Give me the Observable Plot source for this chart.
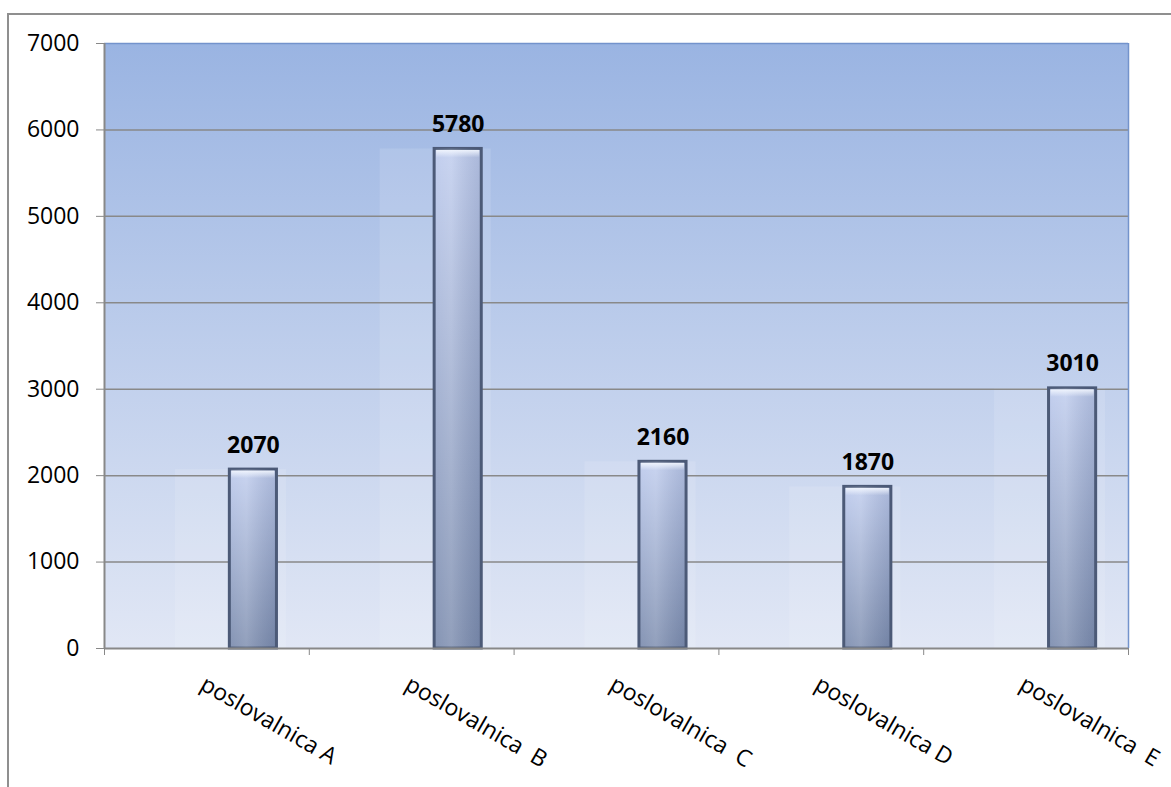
<!DOCTYPE html>
<html><head><meta charset="utf-8">
<script src="https://cdn.jsdelivr.net/npm/d3@7"></script>
<script src="https://cdn.jsdelivr.net/npm/@observablehq/plot@0.6"></script>
<style>
body{margin:0;background:#fff;}
#wrap{position:relative;width:1171px;height:787px;overflow:hidden;}
#frame{position:absolute;left:7px;top:13px;width:1200px;height:800px;border-left:2px solid #8f8f8f;border-top:2px solid #8f8f8f;pointer-events:none;}
#wrap svg{position:absolute;left:0;top:0;}
svg text{white-space:pre;}
</style></head><body><div id="wrap"><div id="frame"></div></div>
<script>
const categories = ["poslovalnica A", "poslovalnica  B", "poslovalnica  C", "poslovalnica D", "poslovalnica  E"];
const values = [2070, 5780, 2160, 1870, 3010];
const yTicks = [0, 1000, 2000, 3000, 4000, 5000, 6000, 7000];
const gridTicks = [1000, 2000, 3000, 4000, 5000, 6000];

const data = categories.map((c, i) => ({c, v: values[i]}));

const defs = () => {
  const s = d3.create("svg:defs");
  const bg = s.append("linearGradient").attr("id", "bg").attr("x1", 0).attr("y1", 0).attr("x2", 0).attr("y2", 1);
  bg.append("stop").attr("offset", "0%").attr("stop-color", "#9ab4e2");
  bg.append("stop").attr("offset", "100%").attr("stop-color", "#e1e7f5");
  const bv = s.append("linearGradient").attr("id", "barV").attr("x1", 0).attr("y1", 0).attr("x2", 0).attr("y2", 1);
  bv.append("stop").attr("offset", "0%").attr("stop-color", "#c0cdee");
  bv.append("stop").attr("offset", "100%").attr("stop-color", "#7f8fb0");
  const bh = s.append("linearGradient").attr("id", "barH").attr("x1", 0).attr("y1", 0).attr("x2", 1).attr("y2", 0);
  bh.append("stop").attr("offset", "0%").attr("stop-color", "#ffffff").attr("stop-opacity", 0.05);
  bh.append("stop").attr("offset", "35%").attr("stop-color", "#ffffff").attr("stop-opacity", 0.15);
  bh.append("stop").attr("offset", "100%").attr("stop-color", "#1a2a50").attr("stop-opacity", 0.12);
  const hl = s.append("linearGradient").attr("id", "hl").attr("x1", 0).attr("y1", 0).attr("x2", 0).attr("y2", 1);
  hl.append("stop").attr("offset", "0%").attr("stop-color", "#f4f8ff").attr("stop-opacity", 0.9);
  hl.append("stop").attr("offset", "100%").attr("stop-color", "#f4f8ff").attr("stop-opacity", 0);
  return s.node();
};

const STEP = 204.8;
const BAR_DX = 46.5;

const chart = Plot.plot({
  width: 1171,
  height: 787,
  marginLeft: 104,
  marginRight: 43,
  marginTop: 43,
  marginBottom: 139,
  style: {fontFamily: "'Open Sans', sans-serif", fontSize: "23px", background: "transparent", color: "#000"},
  x: {domain: categories, paddingInner: 0.77, paddingOuter: 0.385, round: false},
  y: {domain: [0, 7000]},
  marks: [
    defs,
    Plot.frame({fill: "url(#bg)"}),
    Plot.barY(data, {x: "c", y: "v", dx: 24, insetLeft: -32, insetRight: -32, fill: "white", fillOpacity: 0.12}),
    Plot.ruleY(gridTicks, {stroke: "#898989", strokeWidth: 1.5}),
    Plot.ruleY([7000], {stroke: "#7393cc", strokeWidth: 1.5}),
    Plot.ruleX([categories[4]], {dx: STEP / 2, stroke: "#7393cc", strokeWidth: 1.5}),
    Plot.barY(data, {x: "c", y: "v", dx: BAR_DX, fill: "url(#barV)", stroke: "#4c5a77", strokeWidth: 3}),
    Plot.barY(data, {x: "c", y: "v", dx: BAR_DX, insetLeft: 1.5, insetRight: 1.5, fill: "url(#barH)"}),
    Plot.barY(data, {x: "c", y1: "v", y2: "v", dx: BAR_DX, insetTop: 1.5, insetBottom: -9, insetLeft: 2, insetRight: 2, fill: "url(#hl)"}),
    Plot.ruleY([0], {stroke: "#888", strokeWidth: 2}),
    Plot.ruleX([categories[0]], {dx: -STEP / 2, stroke: "#888", strokeWidth: 2}),
    Plot.axisY({ticks: yTicks, tickSize: 8, tickPadding: 17, stroke: "#888", fill: "#000", fontSize: 23, label: null, tickFormat: d => String(d)}),
    Plot.axisX({ticks: categories, tickSize: 7, tickFormat: () => "", dx: STEP / 2, stroke: "#888", label: null}),
    Plot.axisX({ticks: [categories[0]], tickSize: 7, tickFormat: () => "", dx: -STEP / 2, stroke: "#888", label: null}),
    Plot.axisX({ticks: categories, tickSize: 0, tickPadding: 26, tickRotate: 30, textAnchor: "start", lineAnchor: "top", fontSize: 23, fill: "#000", label: null}),
    Plot.text(data, {x: "c", y: "v", text: d => String(d.v), dx: BAR_DX, dy: -17, lineAnchor: "bottom", fontWeight: "bold", fontSize: 23, fill: "#000"})
  ]
});
document.getElementById("wrap").appendChild(chart);
</script>
</body></html>
